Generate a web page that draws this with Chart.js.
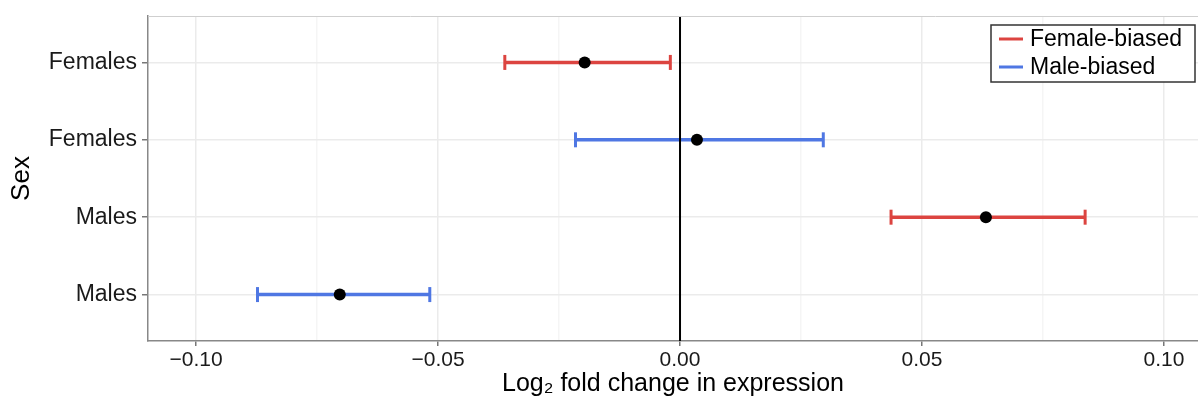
<!DOCTYPE html>
<html>
<head>
<meta charset="utf-8">
<script src="https://cdn.jsdelivr.net/npm/chart.js@4.4.0/dist/chart.umd.min.js"></script>
<style>
  html, body { margin: 0; padding: 0; background: #fff; }
  #chart_view { display: block; }
</style>
</head>
<body>
<canvas id="chart_view" width="1198" height="403"></canvas>
<script>
// rows on the y axis, bottom to top (y = 1..4)
const rowLabels = ['Males', 'Males', 'Females', 'Females'];

// Female-biased genes
const femaleRows = [4, 2];
const femaleEst = [-0.0197, 0.0632];
const femaleLow = [-0.0362, 0.0436];
const femaleHigh = [-0.0020, 0.0837];

// Male-biased genes
const maleRows = [3, 1];
const maleEst = [0.0035, -0.0703];
const maleLow = [-0.0216, -0.0873];
const maleHigh = [0.0296, -0.0517];

const xMajor = [-0.1, -0.05, 0, 0.05, 0.1];
const xMinor = [-0.075, -0.025, 0.025, 0.075];

const seriesNames = ['Female-biased', 'Male-biased'];
const seriesColors = ['#dc4440', '#4f77e3'];

const FONT = '"Liberation Sans", Arial, Helvetica, sans-serif';

function errorBars(rows, low, high, color) {
  return rows.map(function (r, i) {
    return {
      type: 'line',
      data: [{x: low[i], y: r}, {x: high[i], y: r}],
      borderColor: color,
      borderWidth: 3.5,
      pointStyle: 'line',
      pointRotation: 90,
      pointRadius: 7.5,
      pointBorderColor: color,
      pointBorderWidth: 3,
      pointHoverRadius: 7.5,
      order: 2
    };
  });
}

function points(rows, est) {
  return rows.map(function (r, i) { return {x: est[i], y: r}; });
}

const datasets = []
  .concat(errorBars(femaleRows, femaleLow, femaleHigh, seriesColors[0]))
  .concat(errorBars(maleRows, maleLow, maleHigh, seriesColors[1]));

// vertical reference line at zero
datasets.push({
  type: 'line',
  data: [{x: 0, y: 0.4}, {x: 0, y: 4.6}],
  borderColor: '#000',
  borderWidth: 2,
  pointRadius: 0,
  order: 1
});

datasets.push({
  type: 'scatter',
  data: points(femaleRows, femaleEst).concat(points(maleRows, maleEst)),
  backgroundColor: '#000',
  borderWidth: 0,
  pointRadius: 6,
  pointHoverRadius: 6,
  order: 0
});

function isMajor(v) {
  return xMajor.some(function (m) { return Math.abs(m - v) < 1e-9; });
}

// legend box + top border of the panel
const panelExtras = {
  id: 'panelExtras',
  afterDatasetsDraw(chart) {
    const ctx = chart.ctx;
    const a = chart.chartArea;
    ctx.save();
    ctx.strokeStyle = '#cfcfcf';
    ctx.lineWidth = 1;
    ctx.beginPath();
    ctx.moveTo(a.left, a.top + 0.5);
    ctx.lineTo(a.right, a.top + 0.5);
    ctx.stroke();

    const bx = a.right - 207, by = a.top + 9, bw = 204, bh = 57;
    ctx.fillStyle = '#fff';
    ctx.fillRect(bx, by, bw, bh);
    ctx.strokeStyle = '#333';
    ctx.lineWidth = 1.5;
    ctx.strokeRect(bx, by, bw, bh);
    ctx.font = '23px ' + FONT;
    ctx.textBaseline = 'middle';
    ctx.textAlign = 'left';
    seriesNames.forEach(function (name, i) {
      const y = by + 14 + i * 28;
      ctx.strokeStyle = seriesColors[i];
      ctx.lineWidth = 3;
      ctx.beginPath();
      ctx.moveTo(bx + 8, y);
      ctx.lineTo(bx + 32, y);
      ctx.stroke();
      ctx.fillStyle = '#000';
      ctx.fillText(name, bx + 39, y + 1);
    });
    ctx.restore();
  }
};

const config = {
  type: 'scatter',
  data: {datasets: datasets},
  options: {
    responsive: false,
    animation: false,
    layout: {autoPadding: false, padding: {top: 16, right: 0, bottom: 0, left: 0}},
    plugins: {
      legend: {display: false},
      tooltip: {enabled: false}
    },
    scales: {
      x: {
        type: 'linear',
        min: -0.10992,
        max: 0.10702,
        afterBuildTicks: function (scale) {
          scale.ticks = xMajor.concat(xMinor).sort(function (a, b) { return a - b; })
            .map(function (v) { return {value: v}; });
        },
        afterFit: function (scale) {
          scale.height = 62;
          scale.paddingLeft = 0;
          scale.paddingRight = 0;
        },
        border: {color: '#888', width: 1.5},
        grid: {
          color: function (c) { return isMajor(c.tick.value) ? '#ebebeb' : '#f5f5f5'; },
          lineWidth: 1.5,
          tickColor: function (c) { return isMajor(c.tick.value) ? '#777' : 'rgba(0,0,0,0)'; },
          tickLength: 5,
          tickWidth: 1.5
        },
        ticks: {
          autoSkip: false,
          maxRotation: 0,
          padding: 2,
          color: '#1a1a1a',
          font: {family: FONT, size: 21},
          callback: function (v) {
            if (!isMajor(v)) return '';
            const s = Math.abs(v).toFixed(2);
            return v < -1e-9 ? '\u2212' + s : s;
          }
        },
        title: {
          display: true,
          text: 'Log\u2082 fold change in expression',
          color: '#000',
          font: {family: FONT, size: 25},
          padding: {top: 0, bottom: 4}
        }
      },
      y: {
        type: 'linear',
        min: 0.4,
        max: 4.6,
        afterBuildTicks: function (scale) {
          scale.ticks = rowLabels.map(function (l, i) { return {value: i + 1}; });
        },
        afterFit: function (scale) {
          scale.width = 148;
          scale.paddingTop = 0;
          scale.paddingBottom = 0;
        },
        border: {color: '#888', width: 1.5},
        grid: {
          color: '#ebebeb',
          lineWidth: 1.5,
          tickColor: '#777',
          tickLength: 6,
          tickWidth: 1.5
        },
        ticks: {
          padding: 5,
          color: '#1a1a1a',
          font: {family: FONT, size: 23},
          callback: function (v) { return rowLabels[Math.round(v) - 1]; }
        },
        title: {
          display: true,
          text: 'Sex',
          color: '#000',
          font: {family: FONT, size: 26},
          padding: {top: 6, bottom: 0}
        }
      }
    }
  },
  plugins: [panelExtras]
};

var myChart = new Chart(document.getElementById('chart_view'), config);
</script>
</body>
</html>
